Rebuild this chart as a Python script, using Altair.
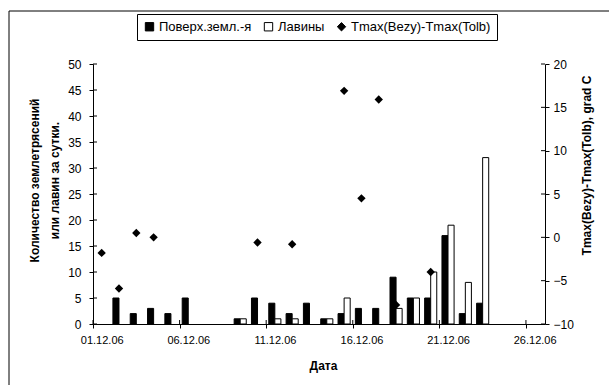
import altair as alt
import pandas as pd

# ---- data ----
days = [2, 3, 4, 5, 6, 9, 10, 11, 12, 13, 14, 15, 16, 17, 18, 19, 20, 21, 22, 23]
quakes = [5, 2, 3, 2, 5, 1, 5, 4, 2, 4, 1, 2, 3, 3, 9, 5, 5, 17, 2, 4]
avalanches = [0, 0, 0, 0, 0, 1, 0, 1, 1, 0, 1, 5, 0, 0, 3, 5, 10, 19, 8, 32]
t_days = [1, 2, 3, 4, 10, 12, 15, 16, 17, 18, 20]
t_diff = [-1.8, -5.9, 0.5, 0.0, -0.6, -0.8, 16.9, 4.5, 15.9, -7.8, -4.0]
x_tick_days = [1, 6, 11, 16, 21, 26]
left_ticks = [0, 5, 10, 15, 20, 25, 30, 35, 40, 45, 50]
right_ticks = [-10, -5, 0, 5, 10, 15, 20]

S1 = "Поверх.земл.-я"
S2 = "Лавины"
S3 = "Tmax(Bezy)-Tmax(Tolb)"
FONT = "Liberation Sans"
W, H = 452, 260

bars_df = pd.DataFrame({
    "day": days + days,
    "value": quakes + avalanches,
    "series": [S1] * len(days) + [S2] * len(days),
})
pts_df = pd.DataFrame({"day": t_days, "value": t_diff, "series": [S3] * len(t_days)})
frame_df = pd.DataFrame({"k": [0]})
xt_df = pd.DataFrame({"t": x_tick_days})
lt_df = pd.DataFrame({"t": left_ticks})
rt_df = pd.DataFrame({"t": right_ticks})

fill_scale = alt.Scale(domain=[S1, S2, S3], range=["black", "white", "black"])
shape_scale = alt.Scale(domain=[S1, S2, S3], range=["square", "square", "diamond"])
x_scale = alt.Scale(domain=[1, 27.1], nice=False, zero=False)
left_scale = alt.Scale(domain=[0, 50], nice=False)
right_scale = alt.Scale(domain=[-10, 20], nice=False)

legend = alt.Legend(
    title=None, orient="none", legendX=44, legendY=-50, direction="horizontal",
    strokeColor="black", fillColor="white", padding=6,
    symbolSize=70, symbolStrokeColor="black", symbolStrokeWidth=1,
    labelFont=FONT, labelFontSize=13, labelColor="black",
    labelOffset=3, columnPadding=10,
)

x_axis = alt.Axis(
    values=x_tick_days,
    labelExpr="(datum.value < 10 ? '0' : '') + datum.value + '.12.06'",
    labelOffset=8.7, labelFlush=False, labelFontSize=11, labelPadding=6, labelBaseline="top",
    tickSize=4, grid=False,
    title="Дата", titleX=230, titleY=41, titleBaseline="middle",
    titleFontSize=12, titleFontWeight="bold",
)
left_axis = alt.Axis(
    values=left_ticks, tickSize=4, labelPadding=8, labelFontSize=12, grid=False,
    title=["Количество землетрясений", "или лавин за сутки."],
    titleX=-59, titleY=116, titleAngle=270, titleBaseline="middle", titleAlign="center",
    titleLineHeight=20, titleFontSize=12, titleFontWeight="bold",
)
right_axis = alt.Axis(
    values=right_ticks, orient="right", tickSize=4, labelPadding=4, labelFontSize=12,
    grid=False, title="Tmax(Bezy)-Tmax(Tolb), grad C",
    titleX=41, titleY=101, titleAngle=270, titleBaseline="middle", titleAlign="center",
    titleFontSize=12, titleFontWeight="bold",
)

frame = alt.Chart(frame_df).mark_rect(filled=False, stroke="black", strokeWidth=1).encode(
    x=alt.value(-84), x2=alt.value(700), y=alt.value(-53), y2=alt.value(400)
)

# inner halves of the crossing tick marks
xt_in = alt.Chart(xt_df).mark_rule(color="black", strokeWidth=1).encode(
    x=alt.X("t:Q", scale=x_scale, axis=x_axis), y=alt.value(H - 4), y2=alt.value(H)
)
lt_in = alt.Chart(lt_df).mark_rule(color="black", strokeWidth=1).encode(
    y=alt.Y("t:Q", scale=left_scale, axis=None), x=alt.value(0), x2=alt.value(4)
)
rt_in = alt.Chart(rt_df).mark_rule(color="black", strokeWidth=1).encode(
    y=alt.Y("t:Q", scale=right_scale, axis=None), x=alt.value(W - 4), x2=alt.value(W)
)

bars = alt.Chart(bars_df).transform_filter("datum.value > 0").transform_calculate(
    xa="datum.day + 0.5 - (datum.series == '%s' ? 0.35 : 0)" % S1,
    xb="datum.day + 0.5 + (datum.series == '%s' ? 0 : 0.35)" % S1,
    base="0",
).mark_rect(stroke="black", strokeWidth=1).encode(
    x=alt.X("xa:Q", scale=x_scale, axis=x_axis),
    x2="xb:Q",
    y=alt.Y("value:Q", scale=left_scale, axis=left_axis),
    y2="base:Q",
    fill=alt.Fill("series:N", scale=fill_scale, legend=legend),
)

pts = alt.Chart(pts_df).transform_calculate(xc="datum.day + 0.5").mark_point(
    filled=True, size=70, strokeWidth=0, opacity=1
).encode(
    x=alt.X("xc:Q", scale=x_scale, axis=x_axis),
    y=alt.Y("value:Q", scale=right_scale, axis=right_axis),
    fill=alt.Fill("series:N", scale=fill_scale, legend=legend),
    shape=alt.Shape("series:N", scale=shape_scale, legend=legend),
)

chart = alt.layer(frame, bars, pts, lt_in, rt_in, xt_in).resolve_scale(y="independent").properties(
    width=W, height=H,
    autosize=alt.AutoSizeParams(type="none"),
    padding={"left": 93, "top": 64, "right": 64, "bottom": 61},
    background="white",
).configure_view(stroke=None).configure_axis(
    labelFont=FONT, titleFont=FONT, labelColor="black", titleColor="black",
    domainColor="black", tickColor="black", domainWidth=1, tickWidth=1,
)

chart.save("out.html", embed_options={"renderer": "svg", "actions": False})
